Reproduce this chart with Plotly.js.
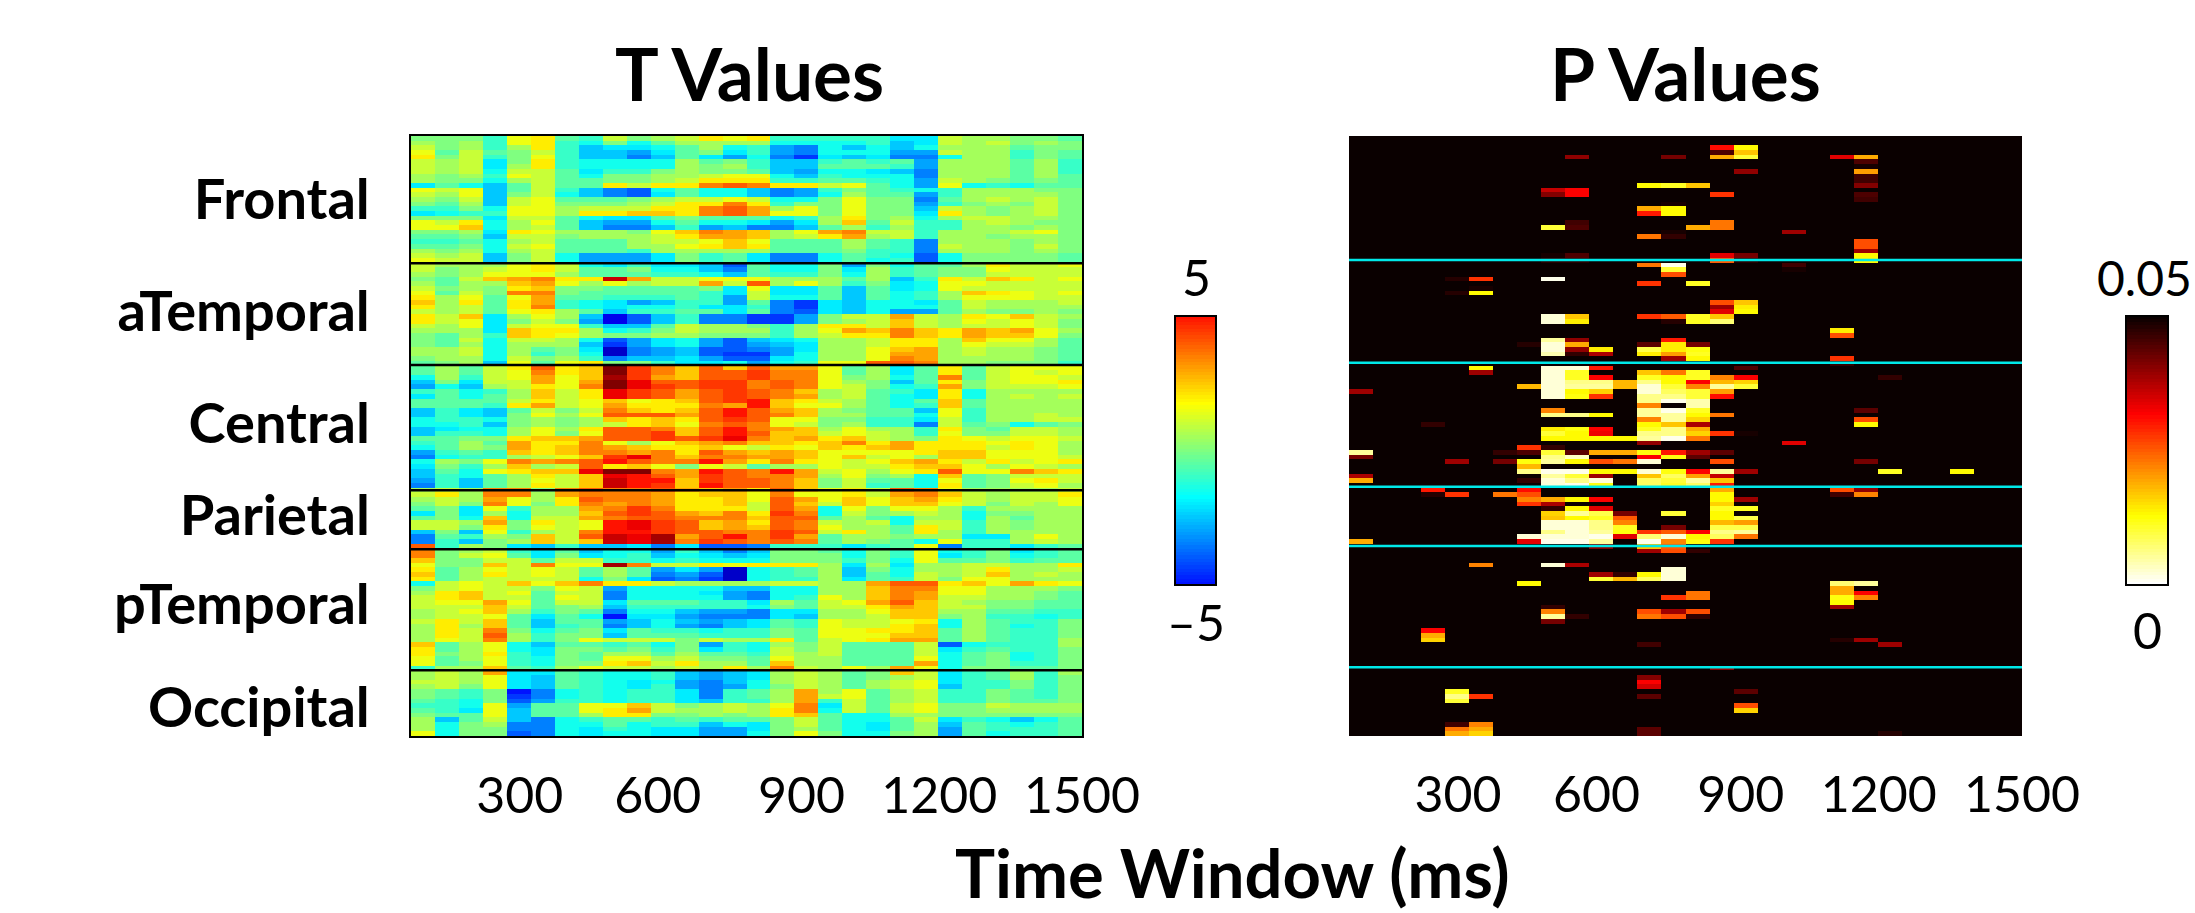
<!DOCTYPE html>
<html><head><meta charset="utf-8">
<script src="https://cdn.plot.ly/plotly-3.0.1.min.js"></script>
<style>html,body{margin:0;padding:0;background:#fff}#g{width:2195px;height:913px}</style></head>
<body><div id="g"></div>
<script>
// T values are stored in half units (T = code * tUnit); rows top to bottom, 28 time windows per row.
const tUnit = 0.5;
const frontalT = [
[0,0,0,-2,3,4,-1,-2,2,0,1,2,4,3,4,-2,-2,-2,-2,-2,-4,-4,2,1,1,0,0,-1],
[1,0,1,-2,3,4,-2,-3,0,-3,-1,1,1,1,1,-3,-3,-3,-3,-2,-5,-4,2,1,2,0,1,0],
[2,0,1,-2,1,4,-2,-5,-4,-4,-3,-1,1,-3,-2,-6,-7,-3,-5,-3,-5,-3,1,1,1,-1,0,0],
[3,-1,2,-1,0,2,-2,-5,-5,-6,-4,-1,0,-4,-2,-6,-7,-3,-3,-3,-6,-6,2,1,1,-2,0,-1],
[4,0,2,-2,0,3,-2,-5,-5,-7,-5,-1,-4,-6,-3,-7,-9,-4,-5,-4,-7,-7,-3,1,1,-2,0,-1],
[2,1,2,-4,0,4,-2,-3,-3,-3,-3,1,-1,0,-2,-5,-5,-2,-1,-2,-1,-6,1,1,1,-1,1,-2],
[2,1,2,-4,1,4,-2,-3,-3,-3,-3,1,0,1,-2,-5,-5,-1,-1,-1,-2,-6,1,1,1,-1,1,-2],
[2,1,2,-3,2,2,-1,-4,-2,-2,0,1,0,0,-1,-5,-6,-3,-3,-4,-5,-7,1,1,1,-1,1,-2],
[1,0,1,-2,3,2,-1,-3,0,0,1,1,2,3,3,-3,-5,-2,-3,-3,-3,-7,1,1,1,-1,1,-1],
[1,0,0,-3,1,2,-1,-1,0,0,1,2,4,4,4,-2,-2,-1,-1,-2,-3,-6,2,1,0,-1,0,-1],
[-4,-1,-3,-5,-1,2,-1,-1,4,2,4,4,7,8,7,4,4,2,3,-1,-3,-6,3,-3,-2,-3,-1,-1],
[3,2,3,-5,-1,2,-2,-5,-7,-8,-3,-1,-3,-3,-5,-7,-6,-2,0,-1,-2,-3,-2,1,1,1,0,0],
[2,1,3,-5,0,2,-3,-5,-7,-8,-4,-1,-3,-3,-5,-7,-6,-3,1,-1,-1,-6,-2,1,1,1,1,0],
[1,0,2,-5,2,3,-1,-1,-1,0,1,2,2,3,2,-3,-3,0,3,0,0,-7,-1,1,2,1,2,0],
[0,-1,1,-5,2,3,0,0,0,1,2,4,4,7,4,-2,0,0,3,0,0,-6,-2,0,1,0,2,0],
[-2,-2,0,-3,3,3,1,2,2,2,4,4,7,8,6,1,3,0,3,0,0,-5,2,1,0,1,2,0],
[-4,-3,-2,-2,3,3,1,4,4,5,5,4,7,8,6,3,3,0,3,0,0,-4,4,1,0,1,2,0],
[0,0,0,-4,2,2,-1,-3,-4,-4,-1,0,-1,-1,-1,-3,-2,1,4,0,1,-3,1,2,2,1,1,0],
[3,2,4,-3,1,3,-1,-5,-6,-6,-3,-1,-3,-3,-4,-6,-4,1,5,-1,2,-2,-2,1,2,1,0,0],
[3,3,5,-3,1,2,-1,-5,-7,-7,-5,-2,-6,-5,-7,-7,-5,-1,1,-2,1,-2,-2,1,1,0,1,0],
[0,0,1,-4,4,3,1,1,1,0,3,5,7,6,5,1,3,6,7,2,2,-2,1,1,1,2,3,0],
[-1,-1,0,-5,2,2,0,1,1,1,2,4,6,6,5,1,2,4,6,1,2,-2,1,1,0,1,1,0],
[-2,-2,-1,-3,1,2,-1,-1,-1,1,2,2,3,5,3,-1,-1,-1,1,-1,-2,-7,1,1,1,0,1,0],
[-1,-1,0,-3,2,3,-1,-1,-1,1,1,3,4,5,4,-1,-1,-1,1,-1,-2,-7,2,1,1,0,2,0],
[1,0,1,-3,1,2,-1,-1,-1,-2,1,1,1,1,1,-1,-1,-1,0,-2,-2,-7,1,1,1,0,1,0],
[2,1,2,-5,0,2,-3,-6,-6,-6,-4,0,-2,-1,-4,-7,-7,-3,-1,-2,-3,-8,-3,0,0,0,0,-1],
[3,2,2,-5,0,2,-3,-6,-6,-6,-4,0,-2,-1,-4,-7,-7,-3,-1,-3,-2,-8,-3,0,0,0,0,-1]];
const aTemporalT = [
[2,1,1,1,3,4,2,-3,-4,-2,-4,-4,-5,-8,-1,-3,-3,0,-6,0,-3,-1,-1,1,4,2,2,3],
[2,0,1,2,3,4,2,-1,-1,0,-3,-3,-5,-7,-1,-3,-3,0,-4,1,-2,-1,0,0,3,2,2,2],
[1,0,1,3,3,3,1,-1,-1,-1,-2,-2,-3,-5,-1,-2,-2,0,-3,1,-2,-1,0,0,2,2,2,2],
[0,-1,2,5,6,7,4,4,12,6,2,2,3,3,3,1,1,1,-1,1,-5,-2,4,2,5,4,2,3],
[1,-1,1,1,5,6,3,1,3,1,2,2,6,2,8,1,3,1,-2,0,-4,-3,3,3,2,2,2,2],
[2,0,1,0,4,5,0,0,-1,-1,-1,-1,0,-4,3,-4,-4,-1,-5,-1,-4,-3,3,2,2,2,2,2],
[3,-1,2,0,7,7,0,-1,-1,-1,-1,-1,-2,-4,2,-4,-4,-1,-5,-1,-3,-2,1,5,4,3,2,3],
[4,1,3,-1,3,6,-1,-1,-2,-2,-2,-1,-2,-6,2,-3,-3,-1,-5,-1,-3,-2,1,3,3,3,2,2],
[5,1,4,-1,4,6,-2,-3,-4,-6,-5,-2,-2,-6,-1,-7,-9,-4,-5,-3,-3,-4,-1,2,1,1,1,2],
[4,1,2,-1,4,7,-2,-3,-4,-3,-3,-2,-4,-4,-2,-7,-9,-4,-5,-3,-3,-3,-1,2,1,1,1,1],
[2,1,2,-1,3,4,1,-1,-5,-2,-2,-1,-1,-4,-1,-7,-8,-4,-5,-3,-6,-6,-1,1,0,0,1,0],
[4,2,5,-4,1,3,1,-5,-11,-8,-5,-2,-7,-7,-9,-9,-6,0,2,2,6,2,1,4,3,5,2,1],
[4,2,3,-4,0,2,0,-6,-11,-8,-5,-2,-7,-7,-9,-9,-6,0,1,2,5,2,1,3,2,3,2,0],
[2,1,3,-4,2,3,3,-2,-5,-5,-1,2,1,1,0,-2,1,4,4,2,5,2,1,2,2,3,2,0],
[1,1,1,-4,5,4,4,1,-3,-2,0,2,1,1,1,-2,1,3,6,5,7,5,4,6,5,6,3,1],
[0,-1,1,-2,5,4,3,1,0,0,1,1,0,0,0,-2,1,2,4,4,7,5,4,6,5,5,3,0],
[0,-1,2,-3,2,2,1,-3,-8,-6,-4,-3,-6,-8,-5,-4,-3,1,1,2,4,4,1,5,3,3,1,-1],
[0,-1,1,-3,1,1,1,-5,-9,-6,-4,-3,-6,-8,-6,-5,-4,1,1,2,4,4,1,3,2,2,1,-1],
[1,1,2,-3,1,-1,0,-4,-12,-7,-6,-5,-8,-8,-7,-6,-4,1,1,3,5,6,1,2,1,1,0,-1],
[1,1,2,-3,1,-2,0,-3,-12,-7,-6,-5,-8,-9,-9,-6,-3,1,1,3,6,6,1,2,1,1,0,-1],
[0,1,1,-3,2,0,1,-2,-7,-5,-5,-4,-6,-8,-8,-4,-3,1,1,3,7,6,1,1,1,1,0,-1],
[-1,0,1,-5,3,-1,3,4,0,0,-2,-4,-4,-3,-6,-3,-2,3,3,8,8,7,1,1,0,0,0,-2]];
const centralT = [
[-1,1,-1,2,4,8,4,5,14,9,7,5,8,5,8,6,6,3,-1,1,-4,-1,4,-1,2,3,3,3],
[-1,1,-1,2,3,7,4,5,14,9,7,5,8,8,9,7,7,3,-1,1,-4,-1,4,-1,2,3,2,3],
[-3,1,-2,2,3,6,3,5,13,9,6,5,8,8,9,7,7,3,0,1,-3,-1,7,-1,2,3,3,2],
[-5,0,-4,2,2,6,3,6,14,11,8,8,9,9,7,8,7,3,1,0,-5,-1,4,0,2,3,3,4],
[-6,-3,-5,1,2,4,3,7,14,11,9,8,9,9,7,8,7,3,2,0,-3,-2,6,0,2,2,2,3],
[-2,-1,-3,-2,1,5,2,4,11,9,8,6,8,9,8,7,5,1,2,-1,-2,-4,4,-3,1,1,1,1],
[-4,-1,-3,-1,1,5,2,4,11,9,8,6,8,9,8,7,6,1,2,-1,-3,-4,4,-3,1,2,1,2],
[-1,-1,-1,-1,2,4,2,3,5,3,4,5,8,9,10,5,4,2,1,-1,-3,-1,5,-1,1,1,1,1],
[-1,-1,-1,-2,4,6,2,3,6,4,4,4,7,6,10,5,3,3,1,-1,-3,-2,5,-1,1,1,1,1],
[-5,-2,-4,-5,-1,2,0,2,7,5,4,5,8,10,8,6,5,1,0,-1,-1,-5,3,-2,1,1,1,1],
[-5,-2,-4,-5,0,3,1,3,8,8,8,6,8,10,8,7,5,1,1,-1,-1,-3,3,-2,1,1,2,1],
[-3,-2,-2,-3,0,1,0,1,5,4,5,4,8,9,8,3,3,0,0,-2,-2,-4,2,-2,1,1,2,2],
[-3,-3,-2,-5,0,1,0,1,2,4,5,3,7,8,7,3,2,0,1,-2,-2,-7,2,-1,0,-3,-1,0],
[-5,-4,-3,-3,1,3,1,4,8,8,7,5,8,10,7,6,5,1,3,1,1,-2,4,0,-1,2,2,1],
[-5,-2,-2,-3,1,3,0,3,8,8,9,5,8,10,8,5,5,2,3,2,1,-2,3,0,0,2,2,1],
[-1,-1,0,0,4,5,5,6,8,8,9,8,9,11,7,5,6,4,5,2,1,0,4,3,2,3,3,2],
[-2,-1,1,-1,6,4,4,7,3,1,3,5,6,7,5,5,4,5,7,4,6,4,4,4,3,4,3,1],
[-3,-1,1,0,6,4,5,7,6,5,4,4,5,3,2,4,3,5,4,5,6,4,4,4,2,4,3,1],
[-6,-2,-1,-2,5,4,5,7,7,6,7,4,8,6,5,6,5,3,3,3,3,4,5,5,3,3,3,1],
[-7,-3,-2,-2,1,2,3,5,9,11,7,5,7,7,6,6,5,3,5,2,3,1,5,5,3,3,3,2],
[-3,1,0,3,7,6,7,8,10,8,7,7,10,6,4,7,4,3,2,3,5,6,4,2,4,2,3,4],
[-4,0,-2,1,5,1,2,8,4,5,3,0,3,2,-1,1,1,3,2,2,4,5,5,3,1,3,2,1],
[-5,-1,-3,3,4,5,5,11,14,14,7,6,10,8,7,10,6,2,3,1,3,4,8,3,3,7,5,4],
[-5,-2,-3,-1,1,4,2,5,11,10,8,6,9,8,7,7,6,1,3,0,1,-3,5,-1,0,2,2,2],
[-6,-2,-5,-1,1,3,2,5,12,10,10,5,9,8,8,7,5,0,2,-1,-1,-3,3,-1,0,3,4,2],
[-7,-2,-5,-1,1,4,2,5,12,10,9,5,10,8,8,7,5,0,2,-2,-1,-3,4,-1,0,2,3,1]];
const parietalT = [
[1,2,1,7,7,0,7,8,7,7,8,6,5,6,4,8,5,3,4,2,8,7,3,1,1,1,1,2],
[2,4,1,7,7,1,6,7,7,7,6,4,5,5,3,7,3,3,4,2,6,7,5,2,1,2,2,4],
[1,2,1,6,3,1,4,8,7,7,6,4,4,5,3,8,6,3,5,3,5,6,4,2,1,2,2,3],
[0,2,0,7,3,0,4,7,6,7,6,4,4,5,2,8,5,2,5,3,5,5,3,2,0,2,1,3],
[-1,0,-4,3,-2,1,1,6,7,9,7,4,4,4,2,8,6,-3,3,0,3,3,1,-2,1,1,1,1],
[-4,0,-4,1,-3,1,1,5,8,9,8,6,5,7,4,9,7,-3,2,0,1,2,1,-3,0,0,1,1],
[-1,0,-3,5,-3,2,2,6,7,8,8,7,7,7,5,8,8,-1,1,-1,-3,1,1,-3,1,-1,1,1],
[2,2,1,6,0,4,2,3,10,11,9,8,5,6,4,8,7,2,1,2,-3,2,2,-2,1,0,1,1],
[2,2,0,4,0,3,2,3,10,11,9,8,5,6,5,8,7,3,1,1,-1,4,2,-2,1,0,1,1],
[-5,0,-5,3,-2,1,2,7,10,10,9,8,8,7,7,9,8,2,4,1,-1,4,1,-2,1,1,1,1],
[-7,-1,-2,1,0,5,2,8,12,11,13,6,8,10,7,9,6,-1,1,1,0,1,1,-4,-4,1,3,1],
[-7,-2,-5,0,1,5,2,5,12,11,13,7,9,8,7,8,7,-1,1,0,-1,-3,3,-2,-2,1,2,1],
[8,-2,1,0,-4,-5,-2,-5,-5,-4,-7,-4,-8,-8,-7,-2,-2,-2,-4,-2,-1,3,-7,-2,-2,-4,-2,-1]];
const pTemporalT = [
[7,0,1,2,-2,-4,-1,-5,-3,-3,-6,-2,-5,-7,-5,0,0,-1,-3,0,-2,3,-3,-2,0,-4,-2,-1],
[7,0,2,3,-1,-4,0,-4,-3,-2,-5,-3,-4,-5,-4,0,0,0,-3,0,-2,3,-4,-2,0,-3,-2,-1],
[5,0,0,2,2,-1,2,2,-2,-2,-3,-2,-3,-3,-3,0,0,0,-2,0,-3,3,-1,-1,0,-2,-1,-1],
[3,0,0,5,2,7,3,3,13,7,2,2,4,3,4,4,4,1,-4,1,-4,1,1,2,2,1,1,4],
[4,-1,1,3,2,3,2,-1,1,-1,-6,-4,-6,-12,-3,-2,-1,1,-5,0,-3,1,1,2,4,1,1,2],
[5,-1,1,4,2,3,2,-1,1,-1,-7,-6,-8,-12,-3,-2,-1,1,-5,-1,-3,2,1,2,5,1,2,1],
[4,-1,1,2,2,2,2,-3,0,-4,-8,-7,-9,-12,-3,-2,-2,1,-4,-1,-2,2,0,3,3,1,1,1],
[-3,2,3,2,5,3,5,7,4,4,2,1,1,1,1,2,2,1,1,6,8,8,4,5,3,6,4,3],
[0,2,3,2,2,0,3,2,-6,-3,-3,-3,-3,-5,-5,-3,-3,1,1,5,7,7,3,3,1,1,1,0],
[1,4,5,2,3,-1,2,2,-7,-3,-3,-3,-4,-6,-7,-3,-3,1,1,5,7,6,3,3,1,1,0,-1],
[2,4,5,2,2,-1,3,2,-7,-3,-3,-3,-3,-6,-7,-3,-2,3,1,5,7,6,2,2,1,1,0,-1],
[2,3,3,6,3,-1,2,2,-4,-1,-1,-1,-2,-2,-4,1,-1,2,3,6,8,5,2,1,0,0,-1,-1],
[2,2,2,5,2,-1,0,1,-5,-2,-2,-2,-2,-2,-3,0,-1,2,2,4,6,5,2,2,0,0,-1,-1],
[1,2,3,5,1,-2,0,-1,-7,-3,-3,-5,-6,-6,-7,-4,-4,1,1,3,5,5,1,1,-1,-1,-2,-2],
[1,2,2,3,-1,-4,-1,-3,-10,-4,-4,-6,-7,-7,-7,-4,-5,1,1,2,5,5,0,1,-2,-2,-3,-2],
[2,4,2,5,-1,-5,-1,-1,-6,-5,-3,-5,-6,-5,-4,-1,-2,3,2,2,3,4,-3,1,-1,-2,-2,0],
[1,4,1,5,-1,-5,-2,-1,-7,-5,-3,-6,-7,-5,-4,-1,-2,3,2,2,4,5,-3,1,-1,-3,-2,0],
[1,4,2,7,0,-3,-1,0,-4,-1,-2,-2,-3,-2,-2,0,-1,3,3,4,4,5,-1,1,-1,-2,-2,0],
[1,4,2,8,1,-2,0,0,-5,-1,-1,-1,-2,-2,-2,0,-1,3,3,3,5,5,-1,1,-1,-2,-2,0],
[1,3,2,7,1,-2,0,3,2,2,2,0,2,1,1,4,-1,2,3,4,6,6,-1,1,-1,-2,-2,1],
[5,-1,1,3,-3,-5,-1,-1,-2,-1,-3,0,-6,-2,-3,1,0,2,-1,-1,-1,2,-8,-3,-2,-2,-2,1],
[4,-1,1,3,-3,-4,0,0,-1,0,-2,0,-4,-2,-3,2,0,2,-1,-1,-1,2,-4,-2,-1,-2,-2,0],
[4,0,1,4,-2,-4,0,-1,1,1,-1,1,-1,-1,-2,2,1,2,-1,-1,-1,2,-3,-1,0,-3,-2,0],
[3,-1,1,3,-2,-3,0,-1,3,3,1,2,0,0,-1,3,1,1,-1,-1,-1,3,-3,-1,0,-3,-2,0],
[3,-1,0,3,-2,-3,0,0,4,5,2,4,1,1,-1,5,1,1,-1,-1,-1,6,-3,-1,0,-2,-2,0],
[-2,1,1,5,-1,-2,1,3,2,2,1,2,1,4,1,7,2,1,3,1,6,3,-3,0,0,-1,-1,0]];
const occipitalT = [
[1,2,1,6,-4,-4,-1,-2,-3,-3,-2,-5,-6,-5,-4,1,2,1,-1,0,5,2,-4,-2,-1,1,-2,1],
[1,2,1,3,-4,-5,-1,-2,-3,-3,-2,-5,-6,-5,-4,1,2,1,-1,0,1,2,-4,-2,-1,1,-2,0],
[2,2,1,3,-4,-5,-1,-2,-3,-4,-3,-6,-7,-5,-3,1,2,1,-1,1,2,3,-4,-2,-2,0,-2,0],
[1,2,0,3,-4,-5,-1,-2,-3,-4,-2,-6,-7,-6,-3,0,2,1,-1,1,2,3,-5,-2,-2,0,-2,0],
[0,-1,-2,0,-10,-7,-3,-2,-3,-2,-2,-4,-7,-2,-1,1,6,1,3,-1,1,2,-2,-2,0,-1,-2,0],
[0,-1,-2,0,-9,-7,-3,-2,-3,-2,-2,-4,-7,-2,-1,1,6,2,3,-1,1,2,-2,-2,0,-1,-2,0],
[-1,-2,-3,0,-8,-6,-2,-2,-3,-2,-2,-4,-5,-2,-2,1,6,-2,2,-1,1,2,-2,-2,0,-1,-1,0],
[-2,-2,-3,3,-6,-1,-1,3,3,5,2,0,1,2,1,3,7,-4,2,-1,2,3,0,0,2,1,1,1],
[-1,-2,-4,3,-5,-1,-1,3,4,6,2,1,1,2,1,4,7,-3,2,-1,2,3,0,0,1,1,1,1],
[0,-1,-1,3,-5,-1,-1,1,4,4,0,0,1,0,1,4,5,-1,-3,-3,1,1,0,0,0,0,0,0],
[1,-5,-1,2,-5,-7,-3,-2,-1,-1,-2,-1,-2,-1,-1,0,2,-1,-3,-3,-1,2,-4,-2,-3,-5,-3,-1],
[1,-3,0,1,-7,-7,-3,-3,-1,-3,-2,-2,-5,-3,-4,0,2,-1,-3,-4,-1,1,-5,-1,-2,-3,-2,-1],
[1,-3,0,0,-7,-7,-3,-4,-2,-3,-4,-4,-6,-6,-4,0,1,-1,-3,-4,-1,1,-6,-1,-2,-2,-2,-1],
[3,-3,0,0,-8,-7,-3,-4,-3,-3,-4,-4,-6,-6,-3,0,3,0,-3,-3,0,1,-6,-1,-3,-2,-2,-1]];
// Significant p values: [row, column, p in thousandths]; all other cells are not significant.
const pUnit = 0.001;
const pCells = [
[2,15,31],[2,16,13],[3,15,45],[3,16,17],[4,9,40],[4,13,42],[4,15,19],[4,16,10],[4,20,34],[4,21,19],[5,21,45],[6,21,49],[7,16,40],[7,21,20],[8,21,46],[9,21,46],
[10,12,13],[10,13,11],[10,14,17],[10,21,41],[11,8,36],[11,9,32],[12,8,41],[12,9,32],[12,15,28],[12,21,45],[13,21,46],[14,13,49],[15,12,19],[15,13,13],[16,12,30],[16,13,13],
[18,9,46],[18,15,23],[19,8,10],[19,9,45],[19,14,19],[19,15,23],[20,13,49],[20,18,39],[21,12,23],[21,13,47],[22,21,26],[23,21,26],[24,21,39],
[25,8,49],[25,9,45],[25,15,34],[25,16,42],[25,21,13],[26,8,48],[26,9,48],[26,15,25],[26,16,48],[26,21,13],[27,12,23],[27,13,1],[27,18,46],[28,13,10],[28,18,49],[29,13,26],
[30,4,48],[30,5,28],[30,8,1],[31,12,28],[31,14,11],[32,5,49],[33,4,48],[33,5,13],[35,15,26],[35,16,17],[36,15,39],[36,16,14],[37,15,34],[37,16,13],
[38,8,2],[38,9,17],[38,12,28],[38,13,25],[38,14,11],[38,15,17],[39,8,2],[39,9,14],[39,13,48],[39,14,11],[39,15,7],[41,20,14],[42,20,26],[43,8,5],[43,9,40],[43,13,30],
[44,7,48],[44,8,2],[44,9,19],[44,12,44],[44,13,14],[44,14,42],[45,8,2],[45,9,40],[45,10,14],[45,12,9],[45,13,14],[45,14,12],[46,8,4],[46,9,47],[46,10,38],[46,12,14],[46,13,20],[46,14,11],
[47,13,39],[47,14,13],[47,20,28],[48,20,47],[49,5,13],[49,8,2],[49,9,2],[49,10,30],[49,16,45],[50,5,39],[50,8,2],[50,9,11],[50,12,17],[50,13,23],[50,14,11],
[51,8,2],[51,9,11],[51,10,32],[51,12,11],[51,13,13],[51,14,11],[51,15,22],[51,16,32],[51,22,47],[52,8,2],[52,9,6],[52,10,6],[52,11,18],[52,12,6],[52,13,13],[52,14,32],[52,15,18],[52,16,16],
[53,7,18],[53,8,2],[53,9,5],[53,10,5],[53,11,18],[53,12,2],[53,13,10],[53,14,22],[53,15,5],[53,16,10],[54,0,39],[54,8,2],[54,9,13],[54,10,16],[54,12,2],[54,13,8],[54,14,10],[54,15,20],
[55,8,2],[55,9,12],[55,10,28],[55,12,6],[55,13,6],[55,14,10],[55,15,31],[56,12,6],[56,13,1],[56,14,4],[57,12,22],[57,14,4],[58,8,22],[58,12,5],[58,13,1],[58,14,11],[58,21,44],
[59,8,6],[59,9,6],[59,10,13],[59,12,5],[59,13,5],[59,14,13],[59,15,23],[60,12,22],[60,13,5],[60,14,16],[60,21,26],[61,3,47],[61,12,13],[61,13,17],[61,14,38],[61,21,13],
[62,8,14],[62,9,12],[62,10,32],[62,12,11],[62,13,6],[62,14,19],[63,8,10],[63,9,13],[63,10,33],[63,12,6],[63,13,6],[63,14,16],[63,15,28],[63,16,49],
[64,8,13],[64,9,13],[64,10,13],[64,11,13],[64,12,5],[64,13,1],[64,14,23],[65,12,40],[65,18,34],[66,7,28],[66,8,47],
[67,0,5],[67,6,47],[67,7,45],[67,8,10],[67,9,44],[67,10,19],[67,11,19],[67,12,12],[67,13,30],[67,14,39],[67,15,44],[68,0,42],[68,8,6],[68,9,3],[68,12,32],[68,13,12],[68,14,44],
[69,4,39],[69,6,42],[69,7,12],[69,8,5],[69,9,13],[69,10,26],[69,11,23],[69,12,2],[69,15,26],[69,21,42],[70,7,18],
[71,7,6],[71,8,1],[71,9,1],[71,10,13],[71,11,13],[71,12,2],[71,13,12],[71,14,32],[71,15,5],[71,16,39],[71,22,11],[71,25,13],
[72,0,38],[72,8,5],[72,9,10],[72,10,39],[72,12,17],[72,13,8],[72,14,20],[72,15,36],[73,0,19],[73,7,47],[73,8,2],[73,9,6],[73,10,2],[73,12,8],[73,13,10],[73,14,5],[73,15,17],
[74,8,2],[74,9,1],[74,10,12],[74,12,8],[74,13,11],[74,14,8],[74,15,30],[75,3,30],[75,7,31],[75,15,19],[75,20,26],[75,21,40],
[76,3,48],[76,4,28],[76,6,23],[76,7,26],[76,15,13],[76,20,46],[76,21,22],[77,7,22],[77,8,19],[77,9,13],[77,10,32],[77,15,13],[77,16,39],[78,7,28],[78,8,38],[78,15,16],
[79,8,47],[79,9,13],[79,10,34],[79,15,11],[79,16,11],[80,8,16],[80,9,5],[80,10,9],[80,11,42],[80,13,10],[80,15,13],[81,8,17],[81,9,13],[81,10,11],[81,11,25],[81,15,13],[81,16,9],
[82,8,2],[82,9,2],[82,10,6],[82,11,22],[82,15,18],[82,16,20],[83,8,2],[83,9,2],[83,10,6],[83,11,11],[83,13,42],[83,15,9],[83,16,9],
[84,8,6],[84,9,2],[84,10,5],[84,11,12],[84,12,28],[84,13,25],[84,14,32],[84,15,6],[84,16,5],[85,7,2],[85,8,2],[85,9,2],[85,10,1],[85,11,34],[85,12,7],[85,13,2],[85,14,13],[85,15,8],[85,16,23],
[86,0,19],[86,7,34],[86,8,1],[86,9,1],[86,10,5],[86,12,1],[86,13,22],[86,14,12],[86,15,28],[87,10,41],[87,12,17],[87,13,25],[88,12,39],[88,13,26],[88,14,47],
[91,5,22],[91,8,2],[91,9,38],[92,13,2],[93,10,39],[93,11,47],[93,12,13],[93,13,2],[94,10,10],[94,11,18],[94,12,8],[94,13,2],[95,7,13],[95,20,7],[95,21,5],
[96,20,19],[97,14,23],[97,20,19],[97,21,32],[98,13,28],[98,14,23],[98,20,12],[98,21,22],[99,20,13],[100,8,47],[100,20,39],[101,8,22],[101,12,26],[101,13,39],[101,14,26],
[102,8,5],[102,9,47],[102,12,23],[102,13,26],[102,14,47],[103,8,42],[105,3,32],[106,3,19],[107,3,16],[107,20,48],[107,21,39],[108,12,46],[108,22,39],
[113,15,40],[115,12,41],[116,12,32],[117,12,35],[118,4,11],[118,16,44],[119,4,6],[119,5,28],[119,12,44],[120,4,10],[121,16,26],[122,16,16],
[125,4,46],[125,5,22],[126,4,23],[126,5,19],[126,12,44],[127,4,19],[127,5,16],[127,12,44],[127,22,48]];
const timeTickText = ['300','600','900','1200','1500'];
const timeTickPos = [302,590,890,1177,1475];
const regionNames = ['Frontal','aTemporal','Central','Parietal','pTemporal','Occipital'];
const regionTickRow = [13,36.9,60.9,80.4,99.4,121.4];
const tLineRows = [26.65,48.35,75.05,87.65,113.45];
const pLineRows = [25.95,47.85,74.35,86.95,112.85];
const tBarTicks = ['5','\u20135'];
const pBarTicks = ['0.05','0'];

const jet = [[0,'#000080'],[0.125,'#0000ff'],[0.375,'#00ffff'],[0.625,'#ffff00'],[0.875,'#ff0000'],[1,'#800000']];
const hotR = [[0,'#ffffff'],[0.254,'#ffff00'],[0.635,'#ff0000'],[1,'#0a0000']];
const tCodes = [...frontalT,...aTemporalT,...centralT,...parietalT,...pTemporalT,...occipitalT];
const tZ = tCodes.map(r=>r.map(v=>v*tUnit));
const nRows = tZ.length, nCols = 28;
const pZ = tZ.map(r=>r.map(()=>null));
pCells.forEach(c=>{pZ[c[0]][c[1]] = c[2]*pUnit;});
const colX = Array.from({length:nCols},(_,i)=>100+50*i);
const rowY = Array.from({length:nRows},(_,i)=>i);
const tBar=[],pBar=[];
for(let i=0;i<=80;i++){tBar.push(-5+i/8);pBar.push(i/80*0.05);}
const W=2195,H=913;
const dx=(a,b)=>[a/W,b/W], dy=(top,bot)=>[1-bot/H,1-top/H];
const FONT='Lato, "Open Sans", sans-serif';

const traces=[
 {type:'heatmap',x:colX,y:rowY,z:tZ,xaxis:'x',yaxis:'y',colorscale:jet,zmin:-7,zmax:7,showscale:false},
 {type:'heatmap',x:colX,y:rowY,z:pZ,xaxis:'x2',yaxis:'y2',colorscale:hotR,zmin:0,zmax:0.05,showscale:false,hoverongaps:false},
 {type:'heatmap',x:[0,1],y:tBar,z:tBar.map(v=>[v,v]),xaxis:'x3',yaxis:'y3',colorscale:jet,zmin:-7,zmax:7,showscale:false},
 {type:'heatmap',x:[0,1],y:pBar,z:pBar.map(v=>[v,v]),xaxis:'x4',yaxis:'y4',colorscale:hotR,zmin:0,zmax:0.05,showscale:false}
];
const xCommon={range:[75,1475],tickmode:'array',tickvals:timeTickPos,ticktext:timeTickText,ticks:'outside',ticklen:15,tickcolor:'rgba(0,0,0,0)',
  tickfont:{family:FONT,size:50,color:'#000'},showgrid:false,zeroline:false};
const yCommon={range:[127.5,-0.5],showgrid:false,zeroline:false};
const barAxis={showgrid:false,zeroline:false,showticklabels:false,ticks:'',showline:true,mirror:true,linecolor:'#000',linewidth:2};
const layout={width:W,height:H,margin:{l:0,r:0,t:0,b:0},paper_bgcolor:'#fff',plot_bgcolor:'#0a0000',showlegend:false,
 xaxis:{...xCommon,domain:dx(411,1082),anchor:'y',showline:true,mirror:true,linecolor:'#000',linewidth:2},
 yaxis:{...yCommon,domain:dy(136,736),anchor:'x',tickmode:'array',tickvals:regionTickRow,ticktext:regionNames,ticks:'outside',ticklen:28,tickcolor:'rgba(0,0,0,0)',
   tickfont:{family:FONT,size:56,color:'#000',weight:700},showline:true,mirror:true,linecolor:'#000',linewidth:2},
 xaxis2:{...xCommon,domain:dx(1349,2022),anchor:'y2'},
 yaxis2:{...yCommon,domain:dy(136,736),anchor:'x2',showticklabels:false,ticks:''},
 xaxis3:{...barAxis,domain:dx(1176,1215),anchor:'y3',range:[-0.5,1.5]},
 yaxis3:{...barAxis,domain:dy(317,584),anchor:'x3',range:[-5,5]},
 xaxis4:{...barAxis,domain:dx(2127,2167),anchor:'y4',range:[-0.5,1.5]},
 yaxis4:{...barAxis,domain:dy(317,584),anchor:'x4',range:[0,0.05]},
 shapes:[
  ...tLineRows.map(r=>({type:'line',xref:'x',yref:'y',x0:75,x1:1475,y0:r,y1:r,line:{color:'#000',width:2.5}})),
  ...pLineRows.map(r=>({type:'line',xref:'x2',yref:'y2',x0:75,x1:1475,y0:r,y1:r,line:{color:'#00e8e8',width:2.5}}))
 ],
 annotations:[
  {text:'T Values',xref:'paper',yref:'paper',x:749/W,y:1-73/H,xanchor:'center',yanchor:'middle',showarrow:false,font:{family:FONT,size:73,color:'#000',weight:700}},
  {text:'P Values',xref:'paper',yref:'paper',x:1685/W,y:1-73/H,xanchor:'center',yanchor:'middle',showarrow:false,font:{family:FONT,size:73,color:'#000',weight:700}},
  {text:'Time Window (ms)',xref:'paper',yref:'paper',x:1232/W,y:1-872/H,xanchor:'center',yanchor:'middle',showarrow:false,font:{family:FONT,size:67,color:'#000',weight:700}},
  {text:tBarTicks[0],xref:'paper',yref:'paper',x:1196/W,y:1-277/H,xanchor:'center',yanchor:'middle',showarrow:false,font:{family:FONT,size:50,color:'#000'}},
  {text:tBarTicks[1],xref:'paper',yref:'paper',x:1196/W,y:1-622/H,xanchor:'center',yanchor:'middle',showarrow:false,font:{family:FONT,size:50,color:'#000'}},
  {text:pBarTicks[0],xref:'paper',yref:'paper',x:2144/W,y:1-277/H,xanchor:'center',yanchor:'middle',showarrow:false,font:{family:FONT,size:48,color:'#000'}},
  {text:pBarTicks[1],xref:'paper',yref:'paper',x:2147/W,y:1-630/H,xanchor:'center',yanchor:'middle',showarrow:false,font:{family:FONT,size:50,color:'#000'}}
 ]
};
Plotly.newPlot('g',traces,layout,{displayModeBar:false,staticPlot:true});
</script></body></html>
